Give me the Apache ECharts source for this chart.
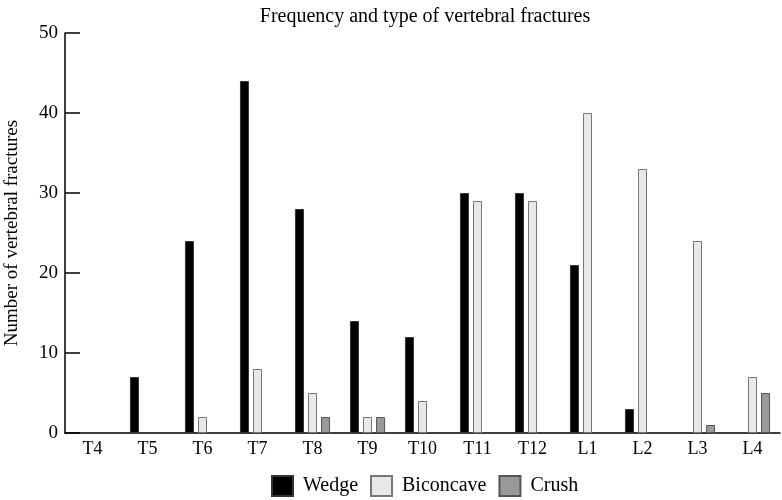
<!DOCTYPE html>
<html>
<head>
<meta charset="utf-8">
<script src="https://cdn.jsdelivr.net/npm/echarts@6/dist/echarts.min.js"></script>
<style>
  html, body { margin: 0; padding: 0; background: #fff; }
  #myChart { width: 782px; height: 500px; }
</style>
</head>
<body>
<div id="myChart"></div>
<script>
var categories = ['T4', 'T5', 'T6', 'T7', 'T8', 'T9', 'T10', 'T11', 'T12', 'L1', 'L2', 'L3', 'L4'];
var wedge     = [0, 7, 24, 44, 28, 14, 12, 30, 30, 21, 3, 0, 0];
var biconcave = [0, 0, 2, 8, 5, 2, 4, 29, 29, 40, 33, 24, 7];
var crush     = [0, 0, 0, 0, 2, 2, 0, 0, 0, 0, 0, 1, 5];

var font = 'Liberation Serif';

// zeros are not drawn in the original, so leave them empty
function noZero(arr) {
    return arr.map(function (v) { return v === 0 ? null : v; });
}

function makeSeries(name, values, color, border) {
    return {
        name: name,
        type: 'bar',
        barWidth: 9,
        barGap: '45%',
        data: noZero(values),
        itemStyle: { color: color, borderColor: border, borderWidth: 1 }
    };
}

var myChart = echarts.init(document.getElementById('myChart'));

var option = {
    animation: false,
    title: {
        text: 'Frequency and type of vertebral fractures',
        left: 420,
        textAlign: 'center',
        top: 2,
        textStyle: { fontFamily: font, fontSize: 20, fontWeight: 'normal', color: '#000' }
    },
    legend: {
        bottom: 3,
        left: 271,
        padding: 0,
        icon: 'rect',
        itemWidth: 21,
        itemHeight: 20,
        itemGap: 12,
        textStyle: { fontFamily: font, fontSize: 20, color: '#000', padding: [0, 0, 0, 5] },
        data: ['Wedge', 'Biconcave', 'Crush']
    },
    grid: { left: 65, right: 2, top: 33, bottom: 67, outerBoundsMode: 'none', containLabel: false },
    xAxis: {
        type: 'category',
        data: categories,
        axisLine: { lineStyle: { color: '#000', width: 1.5 } },
        axisTick: { inside: true, length: 10, lineStyle: { color: '#000', width: 1.5 } },
        axisLabel: { fontFamily: font, fontSize: 18, color: '#000', margin: 7 }
    },
    yAxis: {
        type: 'value',
        min: 0,
        max: 50,
        interval: 10,
        name: 'Number of vertebral fractures',
        nameLocation: 'middle',
        nameGap: 43,
        nameTextStyle: { fontFamily: font, fontSize: 19, color: '#000' },
        axisLine: { show: true, lineStyle: { color: '#000', width: 1.5 } },
        axisTick: { show: true, inside: true, length: 15, lineStyle: { color: '#000', width: 1.5 } },
        axisLabel: { fontFamily: font, fontSize: 19, color: '#000', margin: 7 },
        splitLine: { show: false }
    },
    series: [
        makeSeries('Wedge', wedge, '#000000', '#333333'),
        makeSeries('Biconcave', biconcave, '#e8e8e8', '#777777'),
        makeSeries('Crush', crush, '#999999', '#555555')
    ]
};

myChart.setOption(option);
</script>
</body>
</html>
